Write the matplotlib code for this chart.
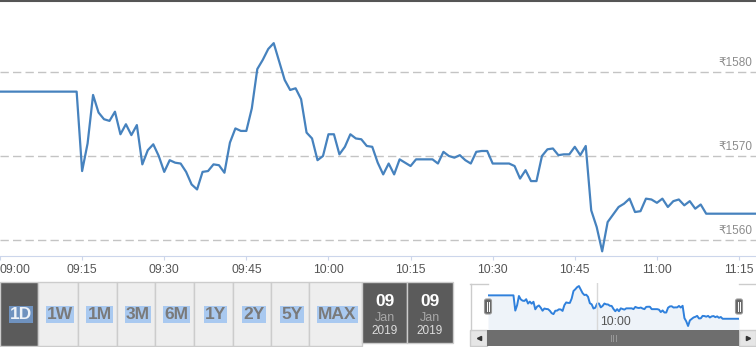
import numpy as np
import matplotlib
matplotlib.use('Agg')
import matplotlib.pyplot as plt
from matplotlib.patches import Rectangle, FancyBboxPatch

plt.rcParams['font.family'] = ['Liberation Sans', 'DejaVu Sans']

# one price per minute from 09:00
price = [
    1577.7, 1577.7, 1577.7, 1577.7, 1577.7, 1577.7, 1577.7, 1577.7, 1577.7, 1577.7,
    1577.7, 1577.7, 1577.7, 1577.7, 1577.7, 1568.2, 1571.5, 1577.3, 1575.2, 1574.4,
    1574.2, 1575.3, 1572.6, 1573.8, 1572.5, 1573.7, 1569.0, 1570.7, 1571.4, 1570.0,
    1568.1, 1569.5, 1569.2, 1569.1, 1568.1, 1566.6, 1566.0, 1568.1, 1568.2, 1569.0,
    1568.9, 1568.0, 1571.6, 1573.3, 1573.0, 1573.0, 1575.7, 1580.4, 1581.5, 1582.8,
    1583.5, 1581.3, 1579.1, 1577.9, 1578.1, 1576.8, 1572.8, 1572.1, 1569.5, 1570.0,
    1572.6, 1572.6, 1570.2, 1571.1, 1572.6, 1572.1, 1572.0, 1571.2, 1571.1, 1569.2,
    1567.8, 1569.1, 1567.8, 1569.6, 1569.2, 1568.8, 1569.6, 1569.6, 1569.6, 1569.6,
    1569.1, 1570.5, 1570.0, 1569.8, 1570.1, 1569.5, 1569.1, 1570.5, 1570.6, 1570.6,
    1569.1, 1569.1, 1569.1, 1569.1, 1568.8, 1567.3, 1568.3, 1567.0, 1567.0, 1570.0,
    1570.8, 1570.9, 1570.1, 1570.2, 1570.2, 1571.1, 1570.1, 1571.2, 1563.5, 1561.5,
    1558.6, 1562.1, 1563.0, 1563.9, 1564.3, 1564.9, 1563.3, 1563.4, 1564.9, 1564.8,
    1564.4, 1564.9, 1563.9, 1564.6, 1564.8, 1564.1, 1564.6, 1563.7, 1564.2, 1563.1,
    1563.1, 1563.1, 1563.1, 1563.1, 1563.1, 1563.1, 1563.1, 1563.1, 1563.1,
]
time_ticks = [0, 15, 30, 45, 60, 75, 90, 105, 120, 135]
time_labels = ['09:00', '09:15', '09:30', '09:45', '10:00', '10:15',
               '10:30', '10:45', '11:00', '11:15']
price_ticks = [1560, 1570, 1580]
ranges = ['1D', '1W', '1M', '3M', '6M', '1Y', '2Y', '5Y', 'MAX']
date_from = ('09', 'Jan', '2019')
date_to = ('09', 'Jan', '2019')

W, H = 756, 347
minutes = np.arange(len(price))

fig = plt.figure(figsize=(W / 100, H / 100), dpi=100)
fig.patch.set_facecolor('white')

# main chart
ax = fig.add_axes([0, 91 / H, 1, 255 / H])
ax.plot(minutes, price, color='#4682be', lw=1.6, solid_joinstyle='round')
ax.set_xlim(0.23, 138.1)
ax.set_ylim(1558.04, 1588.54)
for s in ['left', 'right', 'top']:
    ax.spines[s].set_visible(False)
ax.spines['bottom'].set_color('#ccd6eb')
ax.set_yticks(price_ticks)
ax.tick_params(axis='y', left=False, labelleft=False)
ax.yaxis.grid(True, color='#c4c4c4', lw=1, linestyle=(0, (6, 3)))
for p in price_ticks:
    ax.text(0.995, p + 0.35, '₹%d' % p, transform=ax.get_yaxis_transform(),
            ha='right', va='bottom', fontsize=8.5, color='#8c8c8c')
ax.set_xticks(time_ticks)
ax.set_xticklabels(time_labels, fontsize=8.7, color='#555555')
ax.tick_params(axis='x', length=3, color='#ccd6eb', pad=2.5)
ax.get_xticklabels()[0].set_ha('left')

# navigator
nav = fig.add_axes([488 / W, 17 / H, 251 / W, 47 / H])
nav.fill_between(minutes, price, 1556.1, color='#eef3f9', lw=0)
nav.plot(minutes, price, color='#2f80dc', lw=1.4)
nav.axvline(60, color='#d8d8d8', lw=1)
nav.text(61.5, 1557.5, '10:00', fontsize=8.7, color='#555555', va='bottom')
nav.set_xlim(0, 138)
nav.set_ylim(1556.1, 1585.4)
nav.axis('off')

# overlay for widgets, in pixel coordinates
ov = fig.add_axes([0, 0, 1, 1], zorder=10)
ov.set_xlim(0, W)
ov.set_ylim(H, 0)
ov.axis('off')
ov.patch.set_alpha(0)

ov.plot([0, W], [0.5, 0.5], color='#555555', lw=1.5)

edges = [0, 38, 78, 117, 155, 194, 233, 271, 309, 362]
for i, name in enumerate(ranges):
    x0, x1 = edges[i], edges[i + 1]
    if i == 0:
        ov.add_patch(Rectangle((x0, 282), x1 - x0, 64, facecolor='#5b5b5b',
                               edgecolor='#cccccc', lw=1))
        ov.text((x0 + x1) / 2 + 2, 314.5, name, ha='center', va='center',
                fontsize=12.5, fontweight='bold', color='#eef2f8',
                bbox=dict(boxstyle='square,pad=0.06', fc='#6f92bf', ec='none'))
    else:
        ov.add_patch(Rectangle((x0, 282), x1 - x0, 64, facecolor='#eeeeee',
                               edgecolor='#cccccc', lw=1))
        ov.text((x0 + x1) / 2 + 2, 314.5, name, ha='center', va='center',
                fontsize=12.5, fontweight='bold', color='#7a7a7a',
                bbox=dict(boxstyle='square,pad=0.06', fc='#a9c9f0', ec='none'))

for (x0, x1), (d, m, y) in zip([(362, 407), (407, 453)], [date_from, date_to]):
    ov.add_patch(Rectangle((x0, 282), x1 - x0, 61, facecolor='#5b5b5b',
                           edgecolor='#cccccc', lw=1))
    cx = (x0 + x1) / 2
    ov.text(cx, 301, d, ha='center', va='center', fontsize=12.5,
            fontweight='bold', color='white')
    ov.text(cx, 318, m, ha='center', va='center', fontsize=9, color='#a8a8a8')
    ov.text(cx, 331, y, ha='center', va='center', fontsize=8.5, color='#dddddd')

# navigator outline, handles and scrollbar
ov.plot([470, 488], [283.5, 283.5], color='#cccccc', lw=1)
ov.plot([739, 756], [283.5, 283.5], color='#cccccc', lw=1)
ov.plot([470.5, 470.5], [283.5, 330], color='#cccccc', lw=1)
ov.add_patch(Rectangle((470, 330), 17, 16, facecolor='#e6e6e6',
                       edgecolor='#cccccc', lw=1))
ov.add_patch(Rectangle((739, 330), 17, 16, facecolor='#e6e6e6',
                       edgecolor='#cccccc', lw=1))
ov.add_patch(Rectangle((487, 330), 252, 16, facecolor='#6e6e6e',
                       edgecolor='#6e6e6e', lw=0))
ov.plot([478.5], [338], marker='<', ms=3, color='#333333')
ov.plot([747.5], [338], marker='>', ms=3, color='#333333')
for gx in [610.5, 613, 615.5]:
    ov.plot([gx, gx], [335, 341], color='#9a9a9a', lw=0.7)
for hx in [488, 739]:
    ov.add_patch(FancyBboxPatch((hx - 3.5, 299), 7, 15,
                                boxstyle='round,pad=0,rounding_size=2',
                                facecolor='#666666', edgecolor='#999999', lw=0.8))
    for lx in [hx - 1.2, hx + 1.2]:
        ov.plot([lx, lx], [302, 311], color='white', lw=0.7)

fig.savefig('out.png', dpi=100)
